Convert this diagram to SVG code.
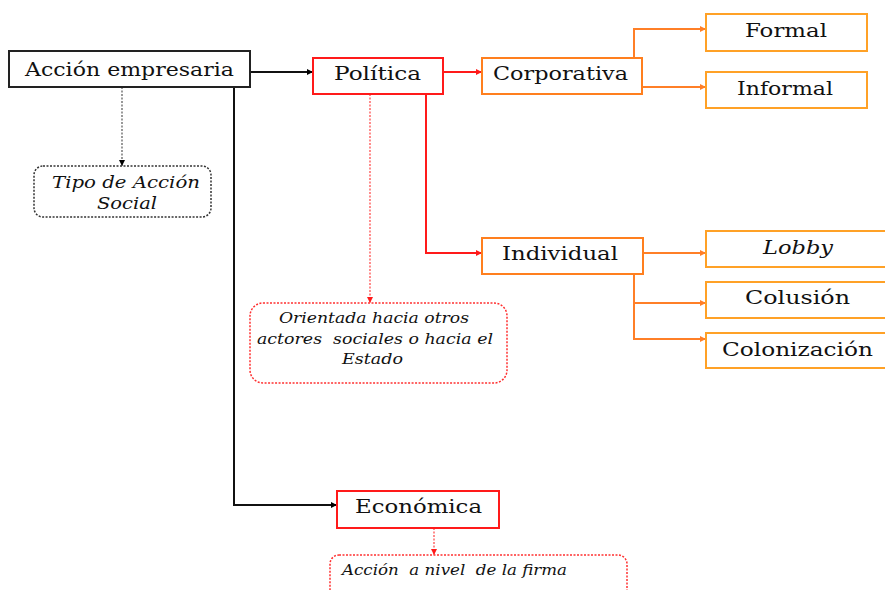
<svg xmlns="http://www.w3.org/2000/svg" width="885" height="590" viewBox="0 0 885 590">
<defs>
<marker id="ab" viewBox="0 0 10 10" refX="10" refY="5" markerWidth="6" markerHeight="6" markerUnits="userSpaceOnUse" orient="auto"><path d="M0,0 L10,5 L0,10 z" fill="#000"/></marker>
<marker id="ar" viewBox="0 0 10 10" refX="10" refY="5" markerWidth="6" markerHeight="6" markerUnits="userSpaceOnUse" orient="auto"><path d="M0,0 L10,5 L0,10 z" fill="#ff1a1a"/></marker>
<marker id="ao" viewBox="0 0 10 10" refX="10" refY="5" markerWidth="6" markerHeight="6" markerUnits="userSpaceOnUse" orient="auto"><path d="M0,0 L10,5 L0,10 z" fill="#ff7f27"/></marker>
</defs>
<style>
.t{font-family:"DejaVu Serif","Liberation Serif",serif;font-size:19px;fill:#111;text-anchor:middle}
.s{font-family:"DejaVu Serif","Liberation Serif",serif;font-style:italic;font-size:14px;fill:#111;text-anchor:middle;white-space:pre}
.m{font-size:16px}
.i{font-style:italic}
.st{text-anchor:start}
.bk{fill:#fff;stroke:#222;stroke-width:2}
.rd{fill:#fff;stroke:#ff1a1a;stroke-width:2}
.or{fill:#fff;stroke:#ff7f1e;stroke-width:2}
.lf{fill:#fff;stroke:#ffa126;stroke-width:2}
.nb{fill:#fff;stroke:#333;stroke-width:1.5;stroke-dasharray:2 1.5}
.nr{fill:#fff;stroke:#ff3030;stroke-width:1.5;stroke-dasharray:2 1.5}
.cb{fill:none;stroke:#111;stroke-width:2}
.cr{fill:none;stroke:#ff1a1a;stroke-width:2}
.co{fill:none;stroke:#ff7f27;stroke-width:2}
.db{fill:none;stroke:#555;stroke-width:1.2;stroke-dasharray:2 1.5}
.dr{fill:none;stroke:#ff4040;stroke-width:1.2;stroke-dasharray:2 1.5}
</style>
<g id="connectors">
<path class="cb" d="M250,72 H313" marker-end="url(#ab)"/>
<path class="cb" d="M234,87 V505 H337" marker-end="url(#ab)"/>
<path class="db" d="M122,87 V166" marker-end="url(#ab)"/>
<path class="cr" d="M443,72 H482" marker-end="url(#ar)"/>
<path class="cr" d="M426,94 V253 H482" marker-end="url(#ar)"/>
<path class="dr" d="M370,94 V303" marker-end="url(#ar)"/>
<path class="dr" d="M434,528 V555" marker-end="url(#ar)"/>
<path class="co" d="M634,58 V29 H706" marker-end="url(#ao)"/>
<path class="co" d="M642,87 H706" marker-end="url(#ao)"/>
<path class="co" d="M643,253 H706" marker-end="url(#ao)"/>
<path class="co" d="M634,274 V339 H706" marker-end="url(#ao)"/>
<path class="co" d="M634,303 H706" marker-end="url(#ao)"/>
</g>
<g id="accion-empresaria"><rect class="bk" x="9" y="51" width="241" height="36"/><text class="t" x="129.5" y="76" textLength="209" lengthAdjust="spacingAndGlyphs">Acción empresaria</text></g>
<g id="tipo-accion-social"><rect class="nb" x="34" y="166" width="177" height="51" rx="9"/><text class="s m" x="126" y="188" textLength="148" lengthAdjust="spacingAndGlyphs">Tipo de Acción</text><text class="s m" x="127" y="209" textLength="60" lengthAdjust="spacingAndGlyphs">Social</text></g>
<g id="politica"><rect class="rd" x="313" y="58" width="130" height="36"/><text class="t" x="377.5" y="80" textLength="87" lengthAdjust="spacingAndGlyphs">Política</text></g>
<g id="corporativa"><rect class="or" x="482" y="58" width="160" height="36"/><text class="t" x="560.5" y="80" textLength="135" lengthAdjust="spacingAndGlyphs">Corporativa</text></g>
<g id="formal"><rect class="lf" x="706" y="14" width="161" height="37"/><text class="t" x="786" y="37" textLength="82" lengthAdjust="spacingAndGlyphs">Formal</text></g>
<g id="informal"><rect class="lf" x="706" y="72" width="161" height="36"/><text class="t" x="785" y="95" textLength="96" lengthAdjust="spacingAndGlyphs">Informal</text></g>
<g id="individual"><rect class="or" x="482" y="238" width="161" height="36"/><text class="t" x="560" y="260" textLength="116" lengthAdjust="spacingAndGlyphs">Individual</text></g>
<g id="lobby"><rect class="lf" x="706" y="231" width="182" height="36"/><text class="t i" x="798" y="254" textLength="70" lengthAdjust="spacingAndGlyphs">Lobby</text></g>
<g id="colusion"><rect class="lf" x="706" y="282" width="182" height="36"/><text class="t" x="797.5" y="304" textLength="105" lengthAdjust="spacingAndGlyphs">Colusión</text></g>
<g id="colonizacion"><rect class="lf" x="706" y="333" width="182" height="35"/><text class="t" x="797.5" y="356" textLength="151" lengthAdjust="spacingAndGlyphs">Colonización</text></g>
<g id="orientada"><rect class="nr" x="250" y="303" width="257" height="80" rx="13"/><text class="s" x="374" y="323" textLength="190" lengthAdjust="spacingAndGlyphs">Orientada hacia otros</text><text class="s" x="375" y="344" textLength="236" lengthAdjust="spacingAndGlyphs">actores  sociales o hacia el</text><text class="s" x="372.5" y="364" textLength="61" lengthAdjust="spacingAndGlyphs">Estado</text></g>
<g id="economica"><rect class="rd" x="337" y="491" width="162" height="37"/><text class="t" x="418.5" y="513" textLength="127" lengthAdjust="spacingAndGlyphs">Económica</text></g>
<g id="accion-nivel-firma"><rect class="nr" x="330" y="555" width="297" height="60" rx="9"/><text class="s st" x="342" y="575" textLength="225" lengthAdjust="spacingAndGlyphs">Acción  a nivel  de la firma</text></g>
</svg>
